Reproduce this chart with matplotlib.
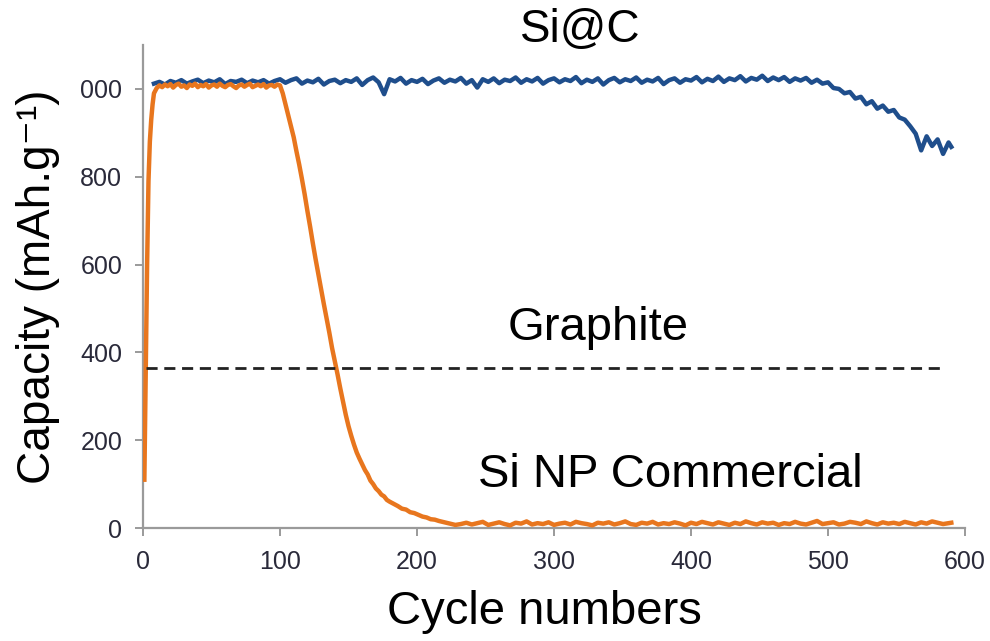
import matplotlib
matplotlib.use("Agg")
import matplotlib.pyplot as plt

plt.rcParams['font.family'] = ['Liberation Sans', 'DejaVu Sans']

# ---------------- data ----------------
# Si@C (blue)
si_c_cycles = list(range(8, 589, 4)) + [590]
si_c_capacity = [
    1012, 1016, 1010, 1018, 1014, 1020, 1012, 1017, 1021, 1013,
    1019, 1015, 1022, 1011, 1018, 1016, 1021, 1013, 1019, 1015,
    1020, 1012, 1018, 1022, 1014, 1020, 1024, 1012, 1019, 1015,
    1023, 1010, 1018, 1021, 1013, 1020, 1016, 1024, 1009, 1020,
    1026, 1015, 988, 1022, 1017, 1025, 1012, 1020, 1016, 1023,
    1011, 1019, 1024, 1014, 1021, 1017, 1025, 1012, 1020, 1003,
    1022, 1016, 1024, 1013, 1021, 1018, 1026, 1014, 1022, 1017,
    1025, 1012, 1020, 1024, 1015, 1022, 1018, 1027, 1013, 1021,
    1016, 1024, 1010, 1020, 1025, 1015, 1022, 1018, 1026, 1014,
    1021, 1017, 1025, 1011, 1020, 1024, 1014, 1022, 1019, 1027,
    1015, 1023, 1018, 1028, 1016, 1024, 1020, 1029, 1017, 1025,
    1021, 1030, 1018, 1026, 1020, 1027, 1016, 1024, 1019, 1025,
    1014, 1021, 1012, 1015, 1002, 1000, 990, 993, 978, 982,
    965, 972, 955, 962, 948, 952, 935, 930, 915, 898,
    860, 892, 870, 885, 852, 878, 868,
]

# Si NP Commercial (orange)
np_rise_cycles = [1, 2, 3, 4, 5, 6, 7, 8, 10]
np_rise_capacity = [110, 350, 600, 790, 880, 930, 965, 990, 1002]
np_flat_cycles = list(range(12, 99, 2))
np_flat_capacity = [
    1008, 1004, 1010, 1006, 1011, 1003, 1009, 1012, 1005, 1008,
    1002, 1010, 1007, 1012, 1004, 1009, 1006, 1011, 1003, 1008,
    1010, 1005, 1012, 1007, 1004, 1009, 1011, 1006, 1002, 1008,
    1010, 1005, 1009, 1012, 1004, 1007, 1010, 1006, 1011, 1003,
    1008, 1009, 1005, 1010,
]
np_fade_cycles = [100, 102, 104, 106, 108, 110, 112, 114, 116, 118,
                  120, 122, 124, 126, 128, 130, 132, 134, 136, 138,
                  140, 142, 144, 146, 148, 150, 152, 154, 156, 158,
                  160, 162, 164, 166, 168, 170, 172, 174, 176, 178,
                  180, 183, 186, 189, 192, 195, 198, 201, 204, 207,
                  210, 213, 216, 220, 224, 228]
np_fade_capacity = [1008, 990, 965, 940, 915, 890, 858, 828, 795, 760,
                    722, 686, 648, 612, 578, 545, 510, 478, 445, 410,
                    380, 350, 318, 288, 258, 232, 210, 190, 172, 158,
                    145, 132, 122, 108, 100, 90, 84, 76, 72, 64,
                    60, 55, 50, 44, 42, 36, 34, 30, 26, 24,
                    20, 19, 16, 13, 10, 7]
np_tail_cycles = list(range(232, 589, 4)) + [590]
np_tail_capacity = [
    9, 12, 8, 11, 14, 7, 10, 13, 9, 6, 12, 10, 15, 8, 11, 9, 13, 7, 10, 12,
    8, 14, 11, 9, 6, 12, 10, 13, 8, 11, 15, 9, 7, 12, 10, 14, 8, 11, 9, 13,
    10, 6, 12, 9, 14, 11, 8, 13, 10, 7, 12, 9, 15, 11, 8, 13, 10, 12, 7, 11,
    9, 14, 10, 8, 12, 16, 9, 11, 13, 8, 10, 14, 12, 9, 15, 11, 8, 13, 10, 12,
    9, 14, 11, 8, 13, 10, 15, 12, 9, 11, 12,
]
si_np_cycles = np_rise_cycles + np_flat_cycles + np_fade_cycles + np_tail_cycles
si_np_capacity = np_rise_capacity + np_flat_capacity + np_fade_capacity + np_tail_capacity

# Graphite theoretical capacity (dashed)
graphite_cycles = [2, 582]
graphite_capacity = [365, 365]

x_ticks = [0, 100, 200, 300, 400, 500, 600]
x_tick_labels = ['0', '100', '200', '300', '400', '500', '600']
y_ticks = [0, 200, 400, 600, 800, 1000]
y_tick_labels = ['0', '200', '400', '600', '800', '000']

assert len(si_c_cycles) == len(si_c_capacity)
assert len(si_np_cycles) == len(si_np_capacity)

# ---------------- figure ----------------
W, H = 990, 641
fig = plt.figure(figsize=(W / 100, H / 100), dpi=100)
ax = fig.add_axes([143 / W, 1 - 528 / H, (965 - 143) / W, (528 - 45) / H])

blue = '#1f4e8c'
orange = '#e8761e'

ax.plot(si_c_cycles, si_c_capacity, color=blue, lw=3.2, solid_joinstyle='round', zorder=2)
ax.plot(si_np_cycles, si_np_capacity, color=orange, lw=3.2, solid_joinstyle='round', zorder=3)
ax.plot(graphite_cycles, graphite_capacity, color='#222222', lw=2.0,
        linestyle=(0, (4, 2.4)), zorder=4)

ax.set_xlim(0, 600)
ax.set_ylim(0, 1100)
ax.set_xticks(x_ticks)
ax.set_xticklabels(x_tick_labels)
ax.set_yticks(y_ticks)
ax.set_yticklabels(y_tick_labels)

for s in ['top', 'right']:
    ax.spines[s].set_visible(False)
for s in ['left', 'bottom']:
    ax.spines[s].set_color('#9a9a9a')
    ax.spines[s].set_linewidth(1.6)

ax.tick_params(axis='both', colors='#9a9a9a', width=1.4, labelcolor='#2a2a3a',
               labelsize=18)
ax.tick_params(axis='y', direction='out', length=6, pad=9)
ax.tick_params(axis='x', direction='out', length=6, pad=10)

ax.set_xlabel('Cycle numbers', fontsize=34)
ax.xaxis.set_label_coords((544 - 143) / (965 - 143), -(612 - 528) / (528 - 45))
ax.xaxis.label.set_va('center')
ax.set_ylabel('Capacity (mAh.g\u207b\u00b9)', fontsize=33)
ax.yaxis.set_label_coords((38 - 143) / (965 - 143), 0.5)
ax.yaxis.label.set_va('center')

fig.text(580 / W, 1 - 30 / H, 'Si@C', fontsize=33, ha='center', va='center')
fig.text(598 / W, 1 - 328 / H, 'Graphite', fontsize=34, ha='center', va='center')
fig.text(670 / W, 1 - 475 / H, 'Si NP Commercial', fontsize=34, ha='center', va='center')

fig.savefig('out.png', dpi=100)
